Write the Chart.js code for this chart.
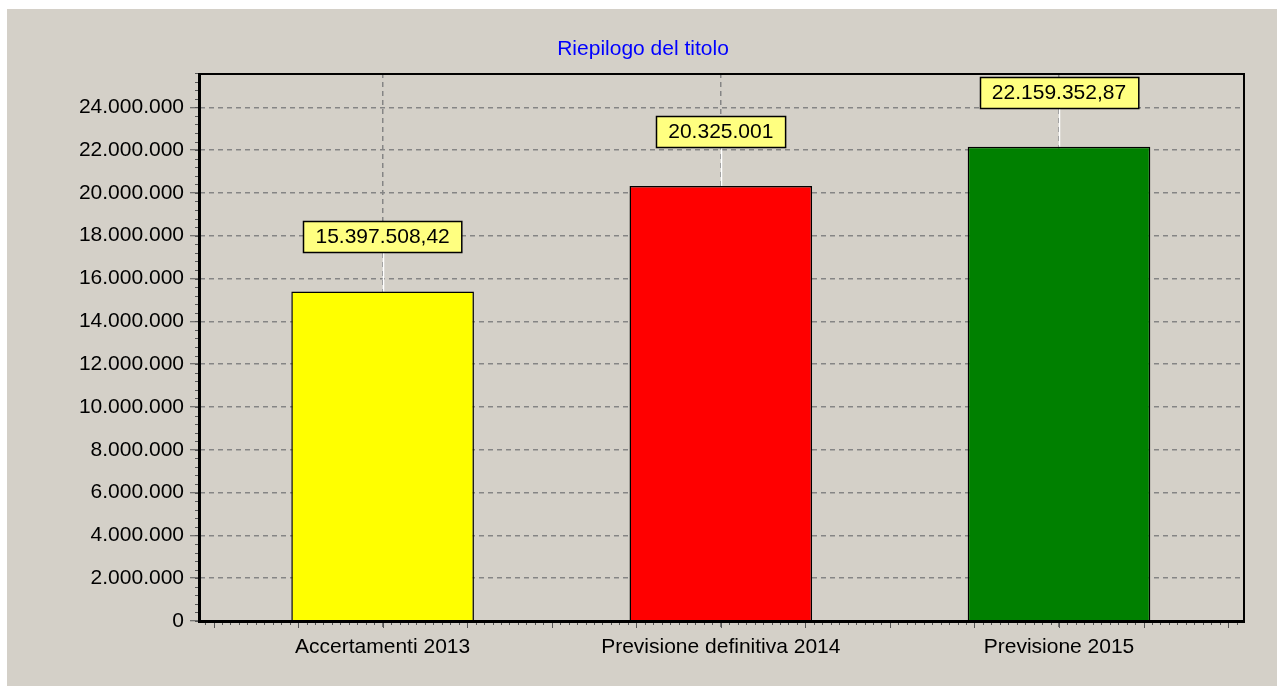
<!DOCTYPE html>
<html lang="it">
<head>
    <meta charset="UTF-8">
    <title>Riepilogo del titolo</title>
    <script src="https://cdn.jsdelivr.net/npm/chart.js"></script>
    <style>
        html, body { margin: 0; padding: 0; background: #ffffff; }
        canvas { display: block; }
    </style>
</head>
<body>
    <canvas id="grafico" width="1279" height="687"></canvas>

    <script>
        // Dati del grafico
        const titolo = 'Riepilogo del titolo';
        const categorie = ['Accertamenti 2013', 'Previsione definitiva 2014', 'Previsione 2015'];
        const importi = [15397508.42, 20325001, 22159352.87];
        const etichette = ['15.397.508,42', '20.325.001', '22.159.352,87'];
        const coloriBarre = ['#ffff00', '#ff0000', '#008000'];
        const tickY = [0, 2000000, 4000000, 6000000, 8000000, 10000000, 12000000,
                       14000000, 16000000, 18000000, 20000000, 22000000, 24000000];
        const yMax = 25600000;

        const FONT = '"Liberation Sans", Arial, sans-serif';

        // 2000000 -> "2.000.000"
        function formatta(v) {
            return String(Math.round(v)).replace(/\B(?=(\d{3})+(?!\d))/g, '.');
        }

        // Sfondo grigio e titolo
        const sfondo = {
            id: 'sfondo',
            beforeDraw(chart) {
                const ctx = chart.ctx;
                ctx.save();
                ctx.fillStyle = '#d4d0c8';
                ctx.fillRect(7, 9, 1270, 677);
                ctx.fillStyle = '#0000ff';
                ctx.font = '21px ' + FONT;
                ctx.textAlign = 'center';
                ctx.textBaseline = 'middle';
                ctx.fillText(titolo, 643, 49);
                ctx.restore();
            }
        };

        // Etichette gialle sopra le barre
        const etichetteBarre = {
            id: 'etichetteBarre',
            afterDatasetsDraw(chart) {
                const ctx = chart.ctx;
                const meta = chart.getDatasetMeta(0);
                ctx.save();
                ctx.font = '21px ' + FONT;
                meta.data.forEach((bar, i) => {
                    const testo = etichette[i];
                    const w = ctx.measureText(testo).width + 24;
                    const h = 31;
                    const fondo = bar.y - 39;
                    // linea bianca di collegamento
                    ctx.strokeStyle = '#ffffff';
                    ctx.lineWidth = 1.5;
                    ctx.setLineDash([]);
                    ctx.beginPath();
                    ctx.moveTo(Math.round(bar.x) + 0.5, bar.y);
                    ctx.lineTo(Math.round(bar.x) + 0.5, fondo);
                    ctx.stroke();
                    // riquadro
                    const x0 = Math.round(bar.x - w / 2);
                    const y0 = Math.round(fondo - h);
                    ctx.fillStyle = '#ffff80';
                    ctx.fillRect(x0, y0, w, h);
                    ctx.strokeStyle = '#000000';
                    ctx.lineWidth = 1.5;
                    ctx.strokeRect(x0 + 0.5, y0 + 0.5, w, h);
                    ctx.fillStyle = '#000000';
                    ctx.textAlign = 'center';
                    ctx.textBaseline = 'middle';
                    ctx.fillText(testo, bar.x, y0 + h / 2 + 1);
                });
                ctx.restore();
            }
        };

        // Cornice, assi spessi e tacche secondarie
        const cornice = {
            id: 'cornice',
            afterDraw(chart) {
                const ctx = chart.ctx;
                const a = chart.chartArea;
                const xs = chart.scales.x;
                const ys = chart.scales.y;
                ctx.save();
                ctx.setLineDash([]);

                // tacche secondarie asse Y
                ctx.lineWidth = 1;
                ctx.strokeStyle = '#555555';
                const passo = tickY[1] - tickY[0];
                for (let v = 0; v <= yMax; v += passo / 5) {
                    const y = Math.round(ys.getPixelForValue(v)) + 0.5;
                    ctx.beginPath();
                    ctx.moveTo(a.left - 5, y);
                    ctx.lineTo(a.left, y);
                    ctx.stroke();
                }
                // tacche secondarie asse X
                const i0 = Math.ceil(xs.min / 0.025);
                const i1 = Math.floor(xs.max / 0.025);
                for (let i = i0; i <= i1; i++) {
                    const x = Math.round(xs.getPixelForValue(i * 0.025)) + 0.5;
                    const lungo = i % 10 === 0;
                    ctx.beginPath();
                    ctx.moveTo(x, a.bottom);
                    ctx.lineTo(x, a.bottom + (lungo ? 7 : 4));
                    ctx.stroke();
                }

                ctx.strokeStyle = '#000000';
                // bordo superiore e destro
                ctx.lineWidth = 2;
                ctx.beginPath();
                ctx.moveTo(a.left, a.top + 1);
                ctx.lineTo(a.right - 1, a.top + 1);
                ctx.lineTo(a.right - 1, a.bottom);
                ctx.stroke();
                // assi spessi
                ctx.lineWidth = 3;
                ctx.beginPath();
                ctx.moveTo(a.left - 0.5, a.top);
                ctx.lineTo(a.left - 0.5, a.bottom + 0.5);
                ctx.lineTo(a.right, a.bottom + 0.5);
                ctx.stroke();
                ctx.restore();
            }
        };

        new Chart(document.getElementById('grafico'), {
            type: 'bar',
            data: {
                datasets: [{
                    data: importi.map((v, i) => ({ x: i, y: v })),
                    backgroundColor: coloriBarre,
                    borderColor: '#000000',
                    borderWidth: 1.5,
                    barPercentage: 0.54,
                    categoryPercentage: 1
                }]
            },
            options: {
                responsive: false,
                animation: false,
                layout: { padding: { top: 73, right: 34, left: 0, bottom: 0 } },
                plugins: {
                    legend: { display: false },
                    tooltip: { enabled: false },
                    title: { display: false }
                },
                scales: {
                    x: {
                        type: 'linear',
                        min: -0.54,
                        max: 2.55,
                        offset: false,
                        afterBuildTicks: s => { s.ticks = categorie.map((c, i) => ({ value: i })); },
                        afterFit: s => { s.height = 66; },
                        grid: {
                            offset: false,
                            color: '#858585',
                            lineWidth: 1.5,
                            drawTicks: true,
                            tickLength: 6,
                            tickColor: '#555555',
                            tickWidth: 1,
                            tickBorderDash: []
                        },
                        border: { display: false, dash: [5, 4] },
                        ticks: {
                            color: '#000000',
                            font: { family: FONT, size: 21 },
                            padding: 8,
                            maxRotation: 0,
                            autoSkip: false,
                            callback: v => categorie[v]
                        }
                    },
                    y: {
                        min: 0,
                        max: yMax,
                        afterBuildTicks: s => { s.ticks = tickY.map(v => ({ value: v })); },
                        afterFit: s => { s.width = 200; },
                        grid: {
                            color: '#858585',
                            lineWidth: 1.5,
                            drawTicks: true,
                            tickLength: 10,
                            tickColor: '#555555',
                            tickWidth: 1,
                            tickBorderDash: []
                        },
                        border: { display: false, dash: [5, 4] },
                        ticks: {
                            color: '#000000',
                            font: { family: FONT, size: 21 },
                            padding: 6,
                            callback: v => formatta(v)
                        }
                    }
                }
            },
            plugins: [sfondo, etichetteBarre, cornice]
        });
    </script>
</body>
</html>
